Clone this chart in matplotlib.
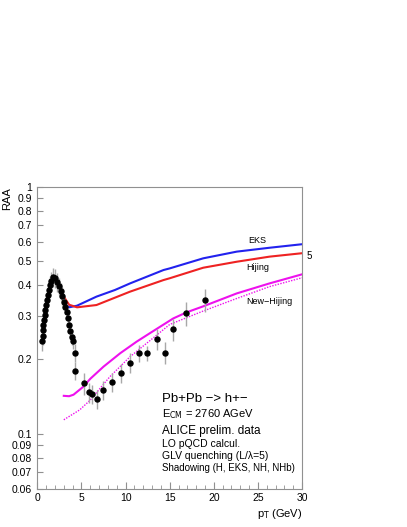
import numpy as np
import matplotlib
matplotlib.use("Agg")
import matplotlib.pyplot as plt

plt.rcParams["font.family"] = ["Liberation Sans", "DejaVu Sans"]

# ALICE prelim. data (pT, RAA, rel. error)
pt_data = [0.55, 0.60, 0.65, 0.70, 0.76, 0.84, 0.91, 0.98, 1.06, 1.18, 1.29, 1.44,
           1.58, 1.78, 2.04, 2.26, 2.49, 2.68, 2.83, 3.02, 3.17, 3.33, 3.44, 3.59,
           3.74, 3.89, 4.00, 4.23, 4.32, 5.29, 5.85, 6.19, 6.72, 7.47, 8.49, 9.51,
           10.53, 11.51, 12.45, 13.52, 14.49, 15.40, 16.90, 19.00]
raa_data = [0.238, 0.249, 0.263, 0.275, 0.289, 0.303, 0.317, 0.332, 0.348, 0.365, 0.382, 0.400,
            0.416, 0.430, 0.426, 0.412, 0.396, 0.379, 0.362, 0.342, 0.327, 0.312, 0.293, 0.275,
            0.261, 0.247, 0.238, 0.213, 0.180, 0.160, 0.147, 0.145, 0.138, 0.150, 0.162, 0.176,
            0.194, 0.212, 0.212, 0.242, 0.213, 0.265, 0.307, 0.348]
rel_err = [0.09, 0.08, 0.08, 0.08, 0.08, 0.08, 0.08, 0.08, 0.08, 0.08, 0.09, 0.09,
           0.09, 0.09, 0.09, 0.09, 0.08, 0.08, 0.08, 0.07, 0.07, 0.07, 0.07, 0.07,
           0.07, 0.07, 0.07, 0.08, 0.08, 0.10, 0.09, 0.09, 0.09, 0.09, 0.09, 0.09,
           0.09, 0.08, 0.07, 0.10, 0.10, 0.10, 0.11, 0.11]

# model curves
pt_eks = [3.0, 3.6, 4.5, 6.7, 8.8, 10.5, 14.3, 15.0, 18.8, 22.6, 26.3, 30.0]
raa_eks = [0.339, 0.325, 0.330, 0.359, 0.382, 0.406, 0.460, 0.467, 0.513, 0.546, 0.566, 0.585]
pt_hij = [3.0, 3.6, 4.5, 6.7, 10.5, 14.3, 15.0, 18.8, 22.6, 26.3, 30.0]
raa_hij = [0.359, 0.333, 0.325, 0.332, 0.376, 0.419, 0.426, 0.470, 0.497, 0.521, 0.538]
pt_nh = [3.0, 3.6, 4.1, 5.2, 6.0, 7.5, 9.4, 11.25, 12.8, 15.4, 16.9, 18.8, 22.6, 26.3, 30.0]
raa_nh = [0.1425, 0.1420, 0.144, 0.155, 0.167, 0.187, 0.212, 0.236, 0.256, 0.293, 0.310, 0.328, 0.370, 0.406, 0.442]
pt_nhb = [3.0, 4.8, 6.0, 8.2, 10.5, 12.8, 15.0, 18.8, 22.6, 26.3, 30.0]
raa_nhb = [0.114, 0.125, 0.137, 0.170, 0.205, 0.239, 0.277, 0.314, 0.353, 0.394, 0.428]

yticks = [0.06, 0.07, 0.08, 0.09, 0.1, 0.2, 0.3, 0.4, 0.5, 0.6, 0.7, 0.8, 0.9, 1]
ytick_labels = ["0.06", "0.07", "0.08", "0.09", "0.1", "0.2", "0.3", "0.4", "0.5",
                "0.6", "0.7", "0.8", "0.9", "1"]

fig = plt.figure(figsize=(4.07, 5.27), dpi=100)
ax = fig.add_axes([0.0917, 0.0727, 0.6505, 0.5731])

yerr = np.array(raa_data) * np.array(rel_err)
ax.errorbar(pt_data, raa_data, yerr=yerr, fmt="o", color="black", ms=3.6,
            ecolor="#a8a8a8", elinewidth=1.0, capsize=0, zorder=3)

ax.plot(pt_eks, raa_eks, color="#2222ee", lw=1.5)
ax.plot(pt_hij, raa_hij, color="#ee2222", lw=1.5)
ax.plot(pt_nh, raa_nh, color="#ee11ee", lw=1.5)
ax.plot(pt_nhb, raa_nhb, color="#ee11ee", lw=1.0, ls=(0, (1, 1)))

ax.set_yscale("log")
ax.set_xlim(0, 30)
ax.set_ylim(0.06, 1)
ax.set_yticks(yticks)
ax.set_yticklabels(ytick_labels)
ax.yaxis.set_minor_locator(matplotlib.ticker.NullLocator())
ax.set_xticks(range(0, 31, 5))
ax.set_xticks(range(0, 31, 1), minor=True)

for s in ax.spines.values():
    s.set_color("#909090")
    s.set_linewidth(0.8)
ax.tick_params(which="both", direction="in", color="#909090", labelsize=7.5,
               top=False, right=False)
ax.tick_params(axis="x", which="major", length=5, pad=3)
ax.tick_params(axis="x", which="minor", length=3)
ax.tick_params(axis="y", which="major", length=4, pad=4)

# curve labels
ax.text(23.85, 0.603, "EKS", fontsize=6.5, ha="left", va="center")
ax.text(23.7, 0.473, "Hijing", fontsize=6.5, ha="left", va="center")
ax.text(23.7, 0.344, "New\u2212Hijing", fontsize=6.5, ha="left", va="center")
fig.text(307 / 407, 1 - 256 / 527, "5", fontsize=7, ha="left", va="center")

x0 = 162 / 407
fig.text(x0, 1 - 399 / 527, "Pb+Pb \u2212> h+\u2212", fontsize=9.5, va="center")
fig.text(x0, 1 - 414 / 527, r"E$_{\rm CM}$ = 2760 AGeV", fontsize=8, va="center")
fig.text(x0, 1 - 431 / 527, "ALICE prelim. data", fontsize=8.5, va="center")
fig.text(x0, 1 - 444 / 527, "LO pQCD calcul.", fontsize=7.5, va="center")
fig.text(x0, 1 - 456 / 527, "GLV quenching (L/\u03bb=5)", fontsize=7.5, va="center")
fig.text(x0, 1 - 468 / 527, "Shadowing (H, EKS, NH, NHb)", fontsize=7, va="center")

fig.text(302 / 407, 1 - 514 / 527, r"p$_{\rm T}$ (GeV)", fontsize=8, ha="right", va="center")
fig.text(2 / 407, 1 - 187 / 527, "RAA", fontsize=8, rotation=90, ha="left", va="top")

fig.savefig("out.png", dpi=100)
